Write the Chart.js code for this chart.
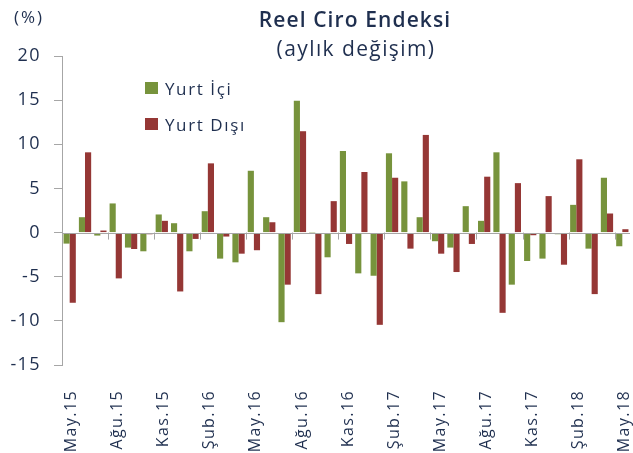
<!DOCTYPE html>
<html>
<head>
<meta charset="utf-8">
<script src="https://cdn.jsdelivr.net/npm/chart.js@4"></script>
<style>
  html, body { margin: 0; padding: 0; background: #fff; }
  #wrap { width: 633px; height: 453px; position: relative; }
</style>
</head>
<body>
<div id="wrap"><canvas id="chartCiro"></canvas></div>
<script>
// Monthly categories, May 2015 - May 2018
const months = [
  'May.15', 'Haz.15', 'Tem.15', 'Ağu.15', 'Eyl.15', 'Eki.15', 'Kas.15', 'Ara.15',
  'Oca.16', 'Şub.16', 'Mar.16', 'Nis.16', 'May.16', 'Haz.16', 'Tem.16', 'Ağu.16',
  'Eyl.16', 'Eki.16', 'Kas.16', 'Ara.16', 'Oca.17', 'Şub.17', 'Mar.17', 'Nis.17',
  'May.17', 'Haz.17', 'Tem.17', 'Ağu.17', 'Eyl.17', 'Eki.17', 'Kas.17', 'Ara.17',
  'Oca.18', 'Şub.18', 'Mar.18', 'Nis.18', 'May.18'
];

// Monthly change (%)
const yurtIci = [
  -1.25, 1.74, -0.34, 3.3, -1.7, -2.12, 2.05, 1.06,
  -2.12, 2.42, -2.95, -3.37, 7.0, 1.74, -10.15, 14.92,
  0.02, -2.8, 9.24, -4.62, -4.89, 8.98, 5.8, 1.74,
  -0.98, -1.7, 2.99, 1.33, 9.09, -5.9, -3.22, -2.95,
  -0.19, 3.14, -1.82, 6.21, -1.55
];
const yurtDisi = [
  -7.95, 9.09, 0.23, -5.19, -1.86, -0.19, 1.33, -6.67,
  -0.72, 7.84, -0.45, -2.39, -2.0, 1.17, -5.9, 11.48,
  -6.97, 3.56, -1.29, 6.86, -10.45, 6.21, -1.82, 11.06,
  -2.39, -4.47, -1.29, 6.33, -9.09, 5.6, -0.3, 4.13,
  -3.64, 8.3, -6.97, 2.16, 0.38
];

const yMin = -15, yMax = 20, yStep = 5;
const labelEvery = 3;

const seriesNames = ['Yurt İçi', 'Yurt Dışı'];
const seriesColors = ['#77933c', '#953735'];

const textColor = '#1f2f4f';
const axisColor = '#a6a6a6';
const fontFamily = '"Open Sans", Lato, sans-serif';

// Wider tracking for the axis labels (applies to every tick label)
const spacingPlugin = {
  id: 'spacing',
  beforeLayout(chart) { chart.ctx.letterSpacing = '1.4px'; },
  beforeDraw(chart) { chart.ctx.letterSpacing = '1.4px'; }
};

// Title, unit label and legend drawn straight onto the canvas
const headerPlugin = {
  id: 'header',
  afterDraw(chart) {
    const c = chart.ctx;
    c.save();
    c.fillStyle = textColor;
    c.textBaseline = 'alphabetic';
    c.textAlign = 'center';
    c.letterSpacing = '1.1px';
    c.font = '600 21px ' + fontFamily;
    c.fillText('Reel Ciro Endeksi', 355, 27);
    c.letterSpacing = '1.4px';
    c.font = '21px ' + fontFamily;
    c.fillText('(aylık değişim)', 356, 56);
    c.textAlign = 'left';
    c.letterSpacing = '2px';
    c.font = '17px ' + fontFamily;
    c.fillText('(%)', 14, 23);

    // legend
    c.letterSpacing = '1.6px';
    c.font = '17px ' + fontFamily;
    seriesNames.forEach((name, i) => {
      const y = 82 + i * 36;
      c.fillStyle = seriesColors[i];
      c.fillRect(145, y, 13, 12);
      c.fillStyle = textColor;
      c.fillText(name, 165, y + 13);
    });
    c.restore();
  }
};

// Zero line plus the short quarter ticks hanging under it
const zeroTicksPlugin = {
  id: 'zeroTicks',
  afterDatasetsDraw(chart) {
    const x = chart.scales.x, y = chart.scales.y;
    const c = chart.ctx;
    const y0 = y.getPixelForValue(0);
    const half = (x.getPixelForValue(1) - x.getPixelForValue(0)) / 2;
    c.save();
    c.strokeStyle = axisColor;
    c.lineWidth = 1;
    c.beginPath();
    c.moveTo(chart.chartArea.left, Math.round(y0) + 0.5);
    c.lineTo(chart.chartArea.right, Math.round(y0) + 0.5);
    for (let i = labelEvery; i < months.length; i += labelEvery) {
      const px = Math.round(x.getPixelForValue(i) - half) + 0.5;
      c.moveTo(px, y0);
      c.lineTo(px, y0 + 7);
    }
    c.stroke();
    c.restore();
  }
};

const ctx = document.getElementById('chartCiro').getContext('2d');
new Chart(ctx, {
  type: 'bar',
  data: {
    labels: months,
    datasets: seriesNames.map((name, i) => ({
      label: name,
      data: i === 0 ? yurtIci : yurtDisi,
      backgroundColor: seriesColors[i],
      borderWidth: 0,
      categoryPercentage: 0.8,
      barPercentage: 1.0
    }))
  },
  options: {
    responsive: true,
    maintainAspectRatio: false,
    animation: false,
    layout: { padding: { top: 56, right: 3, left: 0, bottom: 0 } },
    plugins: {
      legend: { display: false },
      tooltip: { enabled: false }
    },
    scales: {
      x: {
        grid: { display: false },
        border: { display: false },
        ticks: {
          autoSkip: false,
          maxRotation: 90,
          minRotation: 90,
          padding: 17,
          labelOffset: 2,
          color: textColor,
          font: { family: fontFamily, size: 16 },
          callback: (v, i) => (i % labelEvery === 0 ? months[i] : '')
        },
        afterFit: (scale) => {
          scale.height = 88;
          scale.paddingLeft = 0;
          scale.paddingRight = 0;
        }
      },
      y: {
        min: yMin,
        max: yMax,
        grid: {
          drawOnChartArea: false,
          drawTicks: true,
          tickLength: 8,
          tickColor: axisColor
        },
        border: { display: true, color: axisColor, width: 1 },
        ticks: {
          stepSize: yStep,
          padding: 13,
          color: textColor,
          font: { family: fontFamily, size: 18 }
        },
        afterFit: (scale) => { scale.width = 62; }
      }
    }
  },
  plugins: [spacingPlugin, zeroTicksPlugin, headerPlugin]
});
</script>
</body>
</html>
